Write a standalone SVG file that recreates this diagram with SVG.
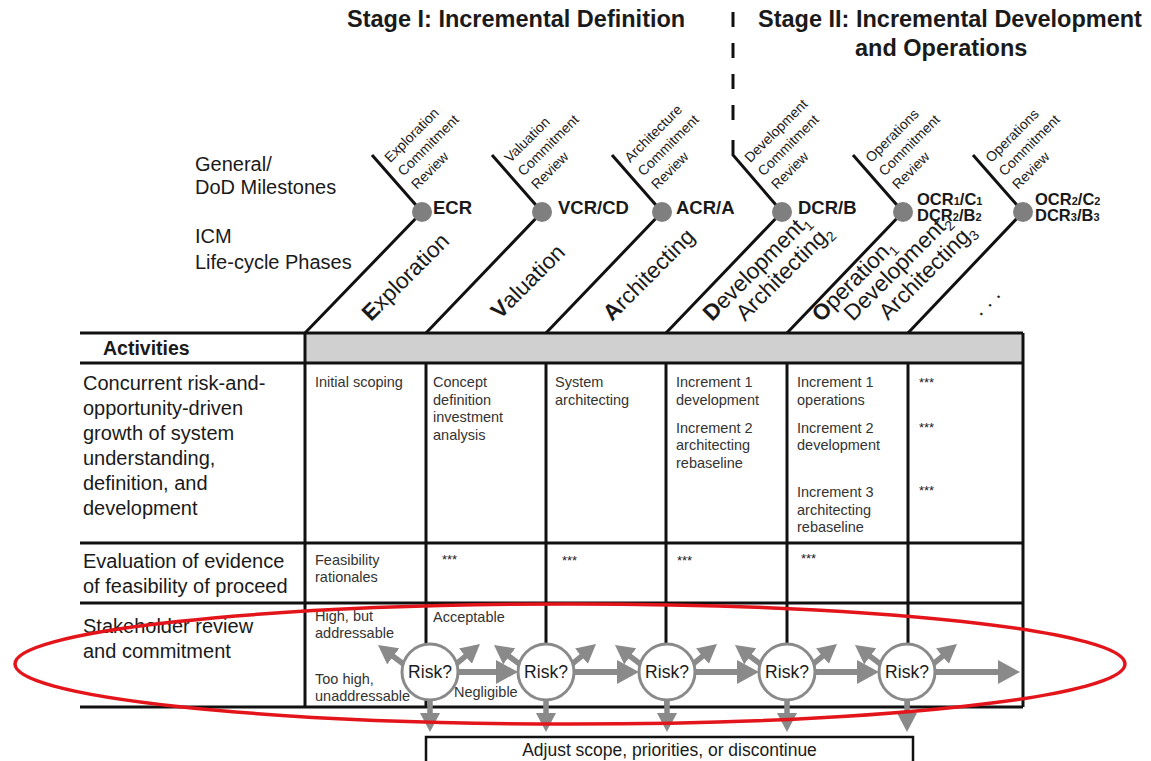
<svg xmlns="http://www.w3.org/2000/svg" width="1151" height="761" viewBox="0 0 1151 761">
<style>
  text { font-family: "Liberation Sans", Arial, Helvetica, sans-serif; fill: #1a1a1a; }
  .b { font-weight: bold; }
  .ln { stroke: #111; stroke-width: 3; fill: none; }
  .dot { fill: #7f7f7f; }
  .ms { font-size: 18.5px; font-weight: bold; }
  .ms2 { font-size: 16.5px; font-weight: bold; }
  .sub { font-size: 11px; }
  .desc { font-size: 14px; }
  .ph { font-size: 22.5px; }
  .lbl { font-size: 20px; }
  .cell { font-size: 14.5px; }
  .cell text { fill: #333; }
  .stars { font-size: 13px; }
  .arr { stroke: #8a8a8a; stroke-width: 6; fill: none; marker-end: url(#ah); }
  .arrs { stroke: #8a8a8a; stroke-width: 5.5; fill: none; marker-end: url(#ahs); }
  .risk circle { fill: #fff; stroke: #8a8a8a; stroke-width: 3; }
  .risk text { font-size: 17.5px; text-anchor: middle; }
</style>
<defs>
  <marker id="ah" markerUnits="userSpaceOnUse" markerWidth="22" markerHeight="24" viewBox="0 0 22 24" refX="1" refY="12" orient="auto">
    <path d="M0,0 L22,12 L0,24 z" fill="#8a8a8a"/>
  </marker>
  <marker id="ahs" markerUnits="userSpaceOnUse" markerWidth="19" markerHeight="20" viewBox="0 0 19 20" refX="1" refY="10" orient="auto">
    <path d="M0,0 L19,10 L0,20 z" fill="#8a8a8a"/>
  </marker>
</defs>

<!-- stage titles and the stage divider -->
<g id="stages">
  <text class="b" x="347" y="27" font-size="23.5">Stage I: Incremental Definition</text>
  <text class="b" x="758" y="27" font-size="23.5">Stage II: Incremental Development</text>
  <text class="b" x="855" y="56" font-size="23.5">and Operations</text>
  <path class="ln" d="M733,12 V125" stroke-dasharray="15 16"/>
</g>

<!-- row headings of the milestone fan -->
<g id="axis-labels" class="lbl">
  <text x="195" y="171">General/</text>
  <text x="195" y="194">DoD Milestones</text>
  <text x="195" y="243">ICM</text>
  <text x="195" y="269">Life-cycle Phases</text>
</g>

<!-- milestones: tick, dot, code and review name -->
<g id="ms-ecr">
  <path class="ln" d="M372,155 L422,212 L305,333"/>
  <circle class="dot" cx="422" cy="212" r="10"/>
  <text class="ms" x="433" y="214">ECR</text>
  <g class="desc" transform="translate(422,212) rotate(-45)">
    <text x="12" y="-57">Exploration</text><text x="12" y="-38">Commitment</text><text x="12" y="-19">Review</text>
  </g>
</g>
<g id="ms-vcr">
  <path class="ln" d="M492,155 L542,212 L426,333"/>
  <circle class="dot" cx="542" cy="212" r="10"/>
  <text class="ms" x="558" y="214">VCR/CD</text>
  <g class="desc" transform="translate(542,212) rotate(-45)">
    <text x="12" y="-57">Valuation</text><text x="12" y="-38">Commitment</text><text x="12" y="-19">Review</text>
  </g>
</g>
<g id="ms-acr">
  <path class="ln" d="M612,155 L662,212 L546,333"/>
  <circle class="dot" cx="662" cy="212" r="10"/>
  <text class="ms" x="676" y="214">ACR/A</text>
  <g class="desc" transform="translate(662,212) rotate(-45)">
    <text x="12" y="-57">Architecture</text><text x="12" y="-38">Commitment</text><text x="12" y="-19">Review</text>
  </g>
</g>
<g id="ms-dcr">
  <path class="ln" d="M733,140 V155 L782,212 L666,333"/>
  <circle class="dot" cx="782" cy="212" r="10"/>
  <text class="ms" x="798" y="214">DCR/B</text>
  <g class="desc" transform="translate(782,212) rotate(-45)">
    <text x="12" y="-57">Development</text><text x="12" y="-38">Commitment</text><text x="12" y="-19">Review</text>
  </g>
</g>
<g id="ms-ocr1">
  <path class="ln" d="M853,155 L903,212 L787,333"/>
  <circle class="dot" cx="903" cy="212" r="10"/>
  <text class="ms2" x="917" y="205">OCR<tspan class="sub">1</tspan>/C<tspan class="sub">1</tspan></text>
  <text class="ms2" x="917" y="221">DCR<tspan class="sub">2</tspan>/B<tspan class="sub">2</tspan></text>
  <g class="desc" transform="translate(903,212) rotate(-45)">
    <text x="12" y="-57">Operations</text><text x="12" y="-38">Commitment</text><text x="12" y="-19">Review</text>
  </g>
</g>
<g id="ms-ocr2">
  <path class="ln" d="M973,155 L1023,212 L908,333"/>
  <circle class="dot" cx="1023" cy="212" r="10"/>
  <text class="ms2" x="1035" y="205">OCR<tspan class="sub">2</tspan>/C<tspan class="sub">2</tspan></text>
  <text class="ms2" x="1035" y="221">DCR<tspan class="sub">3</tspan>/B<tspan class="sub">3</tspan></text>
  <g class="desc" transform="translate(1023,212) rotate(-45)">
    <text x="12" y="-57">Operations</text><text x="12" y="-38">Commitment</text><text x="12" y="-19">Review</text>
  </g>
</g>

<!-- life-cycle phase names along the fan -->
<g id="phases" class="ph">
  <text transform="translate(371,322) rotate(-45)"><tspan class="b">E</tspan>xploration</text>
  <text transform="translate(500,320) rotate(-45)"><tspan class="b">V</tspan>aluation</text>
  <text transform="translate(612,322) rotate(-45)"><tspan class="b">A</tspan>rchitecting</text>
  <text transform="translate(712,322) rotate(-45)"><tspan class="b">D</tspan>evelopment<tspan font-size="14" dy="5">1</tspan></text>
  <text transform="translate(745,322) rotate(-45)">Architecting<tspan font-size="14" dy="5">2</tspan></text>
  <text transform="translate(821,323) rotate(-45)"><tspan class="b">O</tspan>peration<tspan font-size="14" dy="5">1</tspan></text>
  <text transform="translate(853,322) rotate(-45)">Development<tspan font-size="14" dy="5">2</tspan></text>
  <text transform="translate(888,321) rotate(-45)">Architecting<tspan font-size="14" dy="5">3</tspan></text>
  <text transform="translate(980,317) rotate(-45)" font-size="22">. . .</text>
</g>

<!-- activities table -->
<g id="table">
  <rect x="305" y="333" width="718" height="30" fill="#d0d0d0"/>
  <path class="ln" d="M80,333 H1023 M80,363 H1023 M80,543 H1023 M80,603 H1023 M80,707 H1023"/>
  <path class="ln" d="M305,333 V707 M1023,333 V707 M426,363 V707 M546,363 V707 M666,363 V707 M787,363 V707 M908,363 V707"/>
  <text class="b" x="103" y="355" font-size="19.5">Activities</text>
</g>

<g id="row-activities">
  <g class="lbl">
    <text x="83" y="390">Concurrent risk-and-</text>
    <text x="83" y="415">opportunity-driven</text>
    <text x="83" y="440">growth of system</text>
    <text x="83" y="465">understanding,</text>
    <text x="83" y="490">definition, and</text>
    <text x="83" y="515">development</text>
  </g>
  <g class="cell">
    <text x="315" y="387">Initial scoping</text>
    <text x="433" y="387">Concept</text>
    <text x="433" y="405">definition</text>
    <text x="433" y="422">investment</text>
    <text x="433" y="440">analysis</text>
    <text x="555" y="387">System</text>
    <text x="555" y="405">architecting</text>
    <text x="676" y="387">Increment 1</text>
    <text x="676" y="405">development</text>
    <text x="676" y="433">Increment 2</text>
    <text x="676" y="450">architecting</text>
    <text x="676" y="468">rebaseline</text>
    <text x="797" y="387">Increment 1</text>
    <text x="797" y="405">operations</text>
    <text x="797" y="433">Increment 2</text>
    <text x="797" y="450">development</text>
    <text x="797" y="497">Increment 3</text>
    <text x="797" y="515">architecting</text>
    <text x="797" y="532">rebaseline</text>
  </g>
  <g class="stars">
    <text x="919" y="387">***</text>
    <text x="919" y="432">***</text>
    <text x="919" y="495">***</text>
  </g>
</g>

<g id="row-evaluation">
  <g class="lbl">
    <text x="83" y="568">Evaluation of evidence</text>
    <text x="83" y="593">of feasibility of proceed</text>
  </g>
  <g class="cell">
    <text x="315" y="565">Feasibility</text>
    <text x="315" y="582">rationales</text>
  </g>
  <g class="stars">
    <text x="442" y="564">***</text>
    <text x="562" y="565">***</text>
    <text x="677" y="565">***</text>
    <text x="801" y="563">***</text>
  </g>
</g>

<g id="row-stakeholder">
  <g class="lbl">
    <text x="83" y="633">Stakeholder review</text>
    <text x="83" y="658">and commitment</text>
  </g>
  <g class="cell">
    <text x="315" y="621">High, but</text>
    <text x="315" y="638">addressable</text>
    <text x="315" y="684">Too high,</text>
    <text x="315" y="701">unaddressable</text>
    <text x="433" y="622">Acceptable</text>
    <text x="454" y="697">Negligible</text>
  </g>
</g>

<!-- risk decision flow -->
<g id="connectors">
  <path class="arr" d="M458,672 H497"/>
  <path class="arr" d="M574,672 H618"/>
  <path class="arr" d="M695,672 H738"/>
  <path class="arr" d="M815,672 H858"/>
  <path class="arr" d="M935,672 H999"/>

  <path class="arrs" d="M450.9,668.4 L466.2,655.6"/>
  <path class="arrs" d="M408.4,667.8 L392.4,655.8"/>
  <path class="arrs" d="M566.9,668.4 L582.2,655.6"/>
  <path class="arrs" d="M524.4,667.8 L508.4,655.8"/>
  <path class="arrs" d="M687.9,668.4 L703.2,655.6"/>
  <path class="arrs" d="M645.4,667.8 L629.4,655.8"/>
  <path class="arrs" d="M807.9,668.4 L823.2,655.6"/>
  <path class="arrs" d="M765.4,667.8 L749.4,655.8"/>
  <path class="arrs" d="M927.9,668.4 L943.2,655.6"/>
  <path class="arrs" d="M885.4,667.8 L869.4,655.8"/>

  <path class="arrs" d="M430,695 V714"/>
  <path class="arrs" d="M546,695 V714"/>
  <path class="arrs" d="M667,695 V714"/>
  <path class="arrs" d="M787,695 V714"/>
  <path class="arrs" d="M907,695 V714"/>
</g>

<g id="risk-1" class="risk"><circle cx="430" cy="672" r="28"/><text x="430" y="678">Risk?</text></g>
<g id="risk-2" class="risk"><circle cx="546" cy="672" r="28"/><text x="546" y="678">Risk?</text></g>
<g id="risk-3" class="risk"><circle cx="667" cy="672" r="28"/><text x="667" y="678">Risk?</text></g>
<g id="risk-4" class="risk"><circle cx="787" cy="672" r="28"/><text x="787" y="678">Risk?</text></g>
<g id="risk-5" class="risk"><circle cx="907" cy="672" r="28"/><text x="907" y="678">Risk?</text></g>

<g id="adjust">
  <rect x="426" y="737" width="487" height="40" fill="#fff" stroke="#111" stroke-width="2.5"/>
  <text x="669.5" y="756" font-size="17.5" text-anchor="middle">Adjust scope, priorities, or discontinue</text>
</g>

<!-- highlight around the commitment row -->
<ellipse cx="570" cy="664" rx="555" ry="60" fill="none" stroke="#e3151b" stroke-width="3.5"/>
</svg>
